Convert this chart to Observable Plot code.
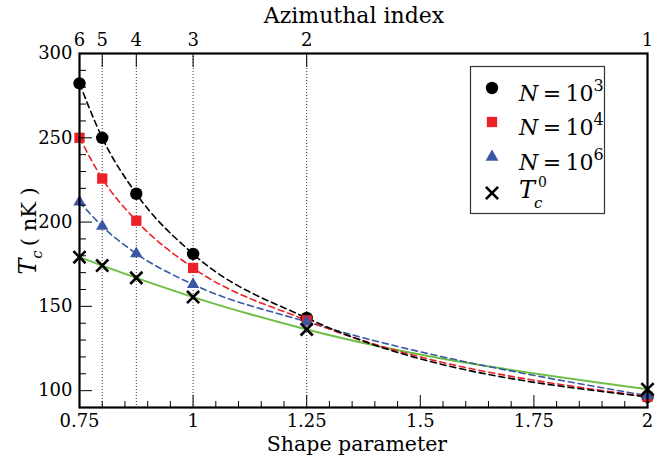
<!DOCTYPE html>
<html><head><meta charset="utf-8">
<script src="https://cdn.jsdelivr.net/npm/d3@7"></script>
<script src="https://cdn.jsdelivr.net/npm/@observablehq/plot@0.6"></script>
<style>body{margin:0;background:#fff} svg text{font-family:"DejaVu Serif",serif !important;}</style>
</head><body><div id="chart"></div>
<script>
// ---- data ----
const shape = [0.75, 0.8, 0.875, 1, 1.25, 2];
const azimuthal = ["6", "5", "4", "3", "2", "1"];
const tcN3 = [282.3, 250.0, 216.8, 181.1, 143.1, 96.3];
const tcN4 = [250.0, 225.8, 200.8, 172.8, 141.7, 96.4];
const tcN6 = [212.0, 197.5, 181.3, 163.0, 140.8, 97.0];
const tc0  = [179.2, 174.2, 166.9, 155.5, 136.3, 100.8];
const xMajor = [0.75, 1, 1.25, 1.5, 1.75, 2];
const xMinor = [0.8, 0.85, 0.9, 0.95, 1.05, 1.1, 1.15, 1.2, 1.3, 1.35, 1.4, 1.45, 1.55, 1.6, 1.65, 1.7, 1.8, 1.85, 1.9, 1.95];
const yMajor = [100, 150, 200, 250, 300];
const yMinor = [110, 120, 130, 140, 160, 170, 180, 190, 210, 220, 230, 240, 260, 270, 280, 290];
const legendExp = ["3", "4", "6"];

const rows = shape.map((s, i) => ({s, n3: tcN3[i], n4: tcN4[i], n6: tcN6[i], t0: tc0[i]}));

const RED = "#ec2128", BLUE = "#3a58a6", GREEN = "#6dbe45";
const dash = "6,4";
const font = "DejaVu Serif";

const plot = Plot.plot({
  width: 669, height: 461,
  marginLeft: 79, marginRight: 22, marginTop: 53, marginBottom: 54,
  x: {domain: [0.75, 2]},
  y: {domain: [90, 300]},
  style: {fontFamily: font, fontSize: "18px", color: "black", background: "white", overflow: "visible"},
  marks: [
    Plot.ruleX(shape.slice(1, 5), {stroke: "#333", strokeWidth: 1, strokeDasharray: "1,2"}),
    Plot.lineY(rows, {x: "s", y: "t0", stroke: GREEN, strokeWidth: 2, curve: "monotone-x"}),
    Plot.lineY(rows, {x: "s", y: "n6", stroke: BLUE, strokeWidth: 1.6, strokeDasharray: dash, curve: "monotone-x"}),
    Plot.lineY(rows, {x: "s", y: "n4", stroke: RED, strokeWidth: 1.6, strokeDasharray: dash, curve: "monotone-x"}),
    Plot.lineY(rows, {x: "s", y: "n3", stroke: "black", strokeWidth: 1.6, strokeDasharray: dash, curve: "monotone-x"}),
    Plot.dot(rows, {x: "s", y: "n3", symbol: "circle", r: 6.2, fill: "black"}),
    Plot.dot(rows, {x: "s", y: "n4", symbol: "square", r: 5.8, fill: RED}),
    Plot.dot(rows, {x: "s", y: "n6", symbol: "triangle", r: 4.6, fill: BLUE}),
    Plot.dot(rows, {x: "s", y: "t0", symbol: "times", r: 5.6, stroke: "black", strokeWidth: 2.6}),
    // axes
    Plot.axisX(xMajor, {anchor: "bottom", tickSize: -12, tickPadding: 19, tickFormat: d => String(d), label: null, fontSize: 18}),
    Plot.axisX(xMinor, {anchor: "bottom", tickSize: -6, text: null, label: null}),
    Plot.axisX(shape, {anchor: "top", tickSize: -13, tickPadding: 21, tickFormat: d => azimuthal[shape.indexOf(d)], label: null, fontSize: 18}),
    Plot.axisY(yMajor, {anchor: "left", tickSize: -13, tickPadding: 20, label: null, fontSize: 18}),
    Plot.axisY(yMinor, {anchor: "left", tickSize: -7, text: null, label: null}),
    Plot.frame({stroke: "black", strokeWidth: 2.2})
  ]
});
document.getElementById("chart").appendChild(plot);

const svg = d3.select(plot);
// titles
svg.append("text").attr("x", 354).attr("y", 23).attr("text-anchor", "middle")
  .attr("font-size", 22).attr("fill", "black").text("Azimuthal index");
svg.append("text").attr("x", 357).attr("y", 451).attr("text-anchor", "middle")
  .attr("font-size", 20.5).attr("fill", "black").text("Shape parameter");
// y label
const yl = svg.append("text").attr("transform", "translate(36,231) rotate(-90)").attr("text-anchor", "middle")
  .attr("font-size", 21).attr("fill", "black");
yl.append("tspan").attr("font-style", "italic").attr("font-size", 24).text("T");
yl.append("tspan").attr("font-style", "italic").attr("font-size", 15).attr("dy", 6).text("c");
yl.append("tspan").attr("dy", -6).text("\u2009( nK )");

// legend
const lg = svg.append("g").attr("fill", "black").attr("text-anchor", "start");
lg.append("rect").attr("x", 470.5).attr("y", 66.5).attr("width", 134).attr("height", 147)
  .attr("fill", "white").attr("stroke", "#333").attr("stroke-width", 1.2);
const sym = (type, r) => d3.symbol(type, r * r * Math.PI)();
const syms = [
  {t: d3.symbolCircle, r: 6.2, fill: "black", y: 88},
  {t: d3.symbolSquare, r: 5.8, fill: RED, y: 122},
  {t: d3.symbolTriangle, r: 4.8, fill: BLUE, y: 157},
];
syms.forEach((d, i) => {
  lg.append("path").attr("d", sym(d.t, d.r)).attr("transform", `translate(492,${d.y})`).attr("fill", d.fill);
  const t = lg.append("text").attr("x", 519).attr("y", d.y + 13).attr("font-size", 22).attr("text-anchor", "start");
  t.append("tspan").attr("font-style", "italic").text("N");
  t.append("tspan").text("\u2009=\u200910");
  t.append("tspan").attr("font-size", 16).attr("dy", -10).text(legendExp[i]);
});
lg.append("path").attr("d", sym(d3.symbolTimes, 5.6)).attr("transform", "translate(492,193)")
  .attr("fill", "none").attr("stroke", "black").attr("stroke-width", 2.6);
const t0 = lg.append("text").attr("y", 198).attr("font-size", 24).attr("text-anchor", "start");
t0.append("tspan").attr("x", 519).attr("font-style", "italic").text("T");
t0.append("tspan").attr("x", 534).attr("dy", 10).attr("font-style", "italic").attr("font-size", 15).text("c");
t0.append("tspan").attr("x", 538).attr("dy", -21).attr("font-size", 14).text("0");
</script>
</body></html>
